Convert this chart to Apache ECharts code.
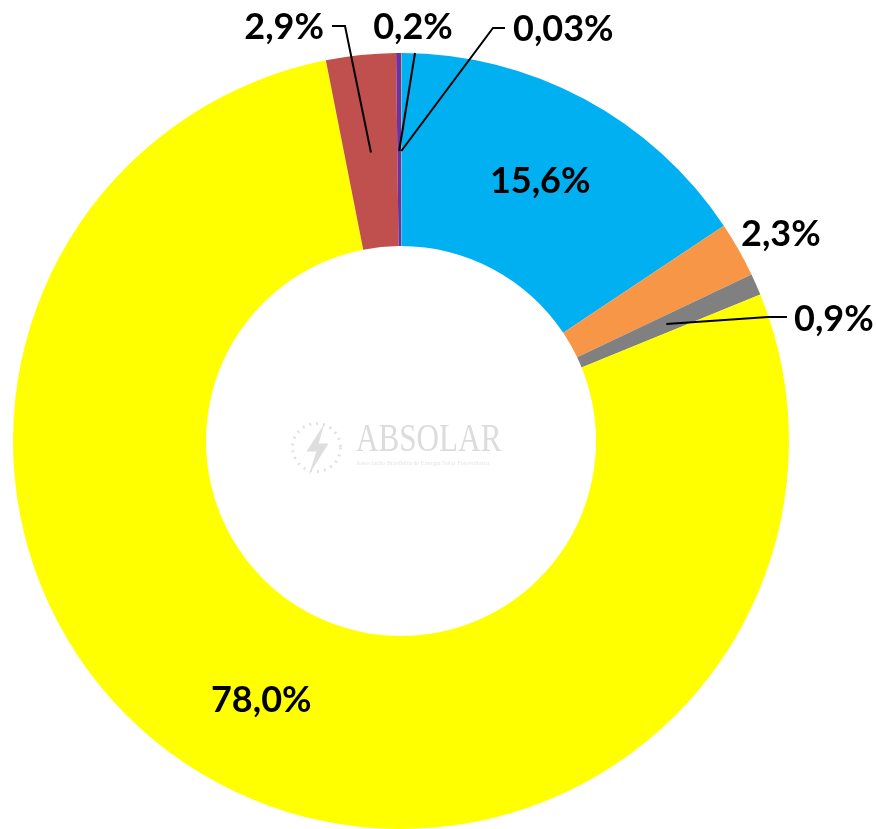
<!DOCTYPE html>
<html>
<head>
<meta charset="utf-8">
<script src="https://cdn.jsdelivr.net/npm/echarts@6/dist/echarts.min.js"></script>
<style>
  html, body { margin: 0; padding: 0; background: #fff; }
  #main { width: 877px; height: 829px; }
</style>
</head>
<body>
<div id="main"></div>
<script>
// data, clockwise from 12 o'clock
const categories = ['Categoria 1', 'Categoria 2', 'Categoria 3', 'Categoria 4', 'Categoria 5', 'Categoria 6', 'Categoria 7'];
const values = [0.03, 15.6, 2.3, 0.9, 78.0, 2.9, 0.2];
const colors = ['#9BBB59', '#00B0F0', '#F79646', '#808080', '#FFFF00', '#C0504D', '#7030A0'];
const insideIdx = [1, 4]; // labels drawn inside the ring

const fmt = v => (v < 0.1 ? v.toFixed(2) : v.toFixed(1)).replace('.', ',') + '%';

// leader line bend/end + label anchor for the outside labels
const outside = {
  0: { line: [[493, 28], [505, 28]], at: [513, 29], align: 'left' },
  2: { line: null, at: [741, 234], align: 'left' },
  3: { line: [[768, 317], [787, 317]], at: [794, 319], align: 'left' },
  5: { line: [[345, 26], [332, 26]], at: [324, 27], align: 'right' },
  6: { line: [[415, 53]], at: [413, 27], align: 'center' }
};

const labelFont = { fontFamily: 'Lato', fontWeight: 'bold', fontSize: 36, color: '#000' };

const myChart = echarts.init(document.getElementById('main'));

const option = {
  animation: false,
  graphic: [
    {
      type: 'group', left: 290, top: 421, silent: true, z: -1,
      children: [
        { type: 'circle', shape: { cx: 26, cy: 26, r: 24 },
          style: { fill: null, stroke: '#e2e2e2', lineWidth: 3, lineDash: [2, 5] } },
        { type: 'polygon', shape: { points: [[34, 2], [16, 30], [26, 30], [18, 54], [38, 22], [28, 22]] },
          style: { fill: '#dedede' } }
      ]
    },
    { type: 'text', left: 356, top: 420, silent: true, scaleX: 0.76, z: -1,
      style: { text: 'ABSOLAR', font: '41px "Liberation Serif"', fill: '#dcdcdc' } },
    { type: 'text', left: 356, top: 460, silent: true, z: -1,
      style: { text: 'Associação Brasileira de Energia Solar Fotovoltaica', font: '6.4px "Liberation Serif"', fill: '#e4e4e4' } }
  ],
  series: [
    {
      type: 'pie',
      z: 2,
      center: [401, 441],
      radius: [195, 388],
      startAngle: 90,
      avoidLabelOverlap: false,
      silent: true,
      itemStyle: { borderWidth: 0 },
      data: values.map((v, i) => ({
        name: categories[i],
        value: v,
        itemStyle: { color: colors[i] },
        label: insideIdx.includes(i)
          ? { show: true, position: 'inside', formatter: fmt(v), ...labelFont }
          : { show: false }
      })),
      labelLine: { show: false }
    },
    {
      // invisible helper ring so leader lines start mid-ring
      type: 'pie',
      z: 5,
      center: [401, 441],
      radius: [0, 290],
      startAngle: 90,
      avoidLabelOverlap: false,
      silent: true,
      itemStyle: { color: 'rgba(0,0,0,0)' },
      data: values.map((v, i) => ({
        name: categories[i],
        value: v,
        label: outside[i]
          ? { show: true, position: 'outside', formatter: fmt(v), ...labelFont }
          : { show: false },
        labelLine: { show: !!(outside[i] && outside[i].line) }
      })),
      labelLine: { show: true, length: 10, length2: 10, lineStyle: { color: '#000', width: 2 } },
      labelLayout: function (params) {
        const o = outside[params.dataIndex];
        if (!o) return {};
        const res = { x: o.at[0], y: o.at[1], align: o.align, verticalAlign: 'middle' };
        if (o.line && params.labelLinePoints) {
          res.labelLinePoints = [params.labelLinePoints[0]].concat(o.line);
        }
        return res;
      }
    }
  ]
};

myChart.setOption(option);
</script>
</body>
</html>
